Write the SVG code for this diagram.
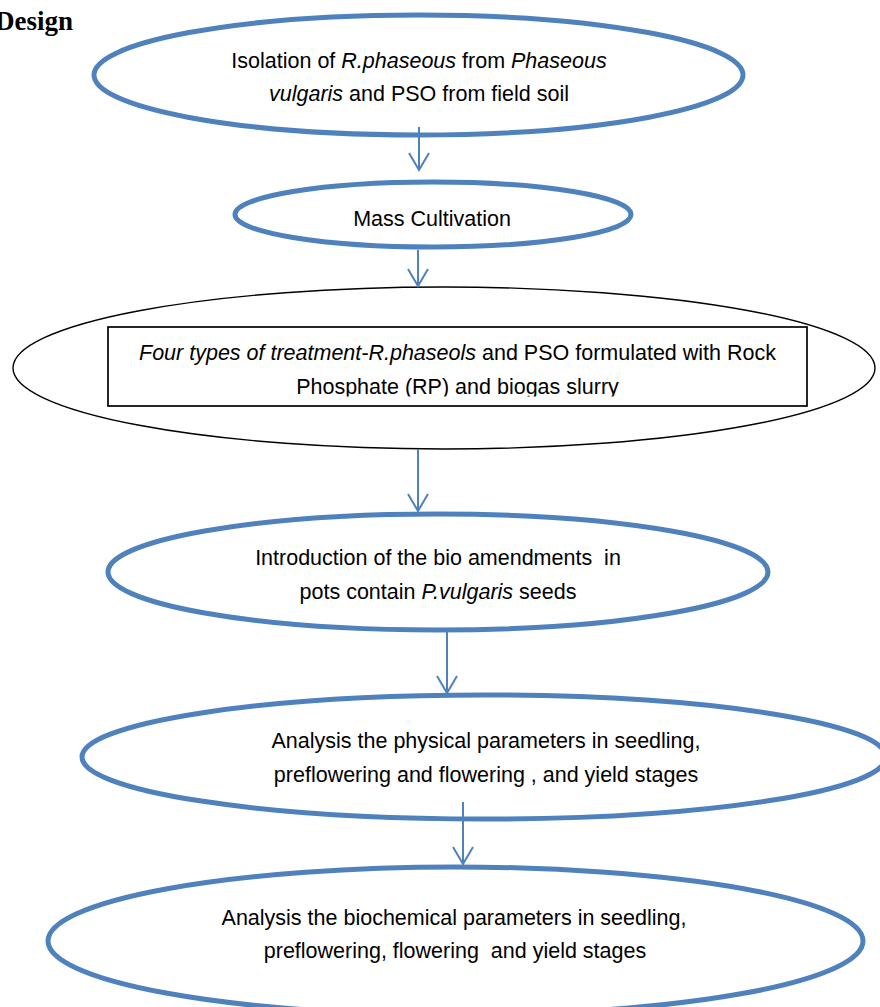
<svg xmlns="http://www.w3.org/2000/svg" width="880" height="1007" viewBox="0 0 880 1007">
  <defs>
    <style>
      .blue { fill: none; stroke: #4F81BD; stroke-width: 5; }
      .thin { fill: none; stroke: #000; stroke-width: 1.4; }
      .box { fill: #fff; stroke: #000; stroke-width: 1.7; }
      .lbl { font-family: "Liberation Sans", Arial, sans-serif; font-size: 21.5px; fill: #000; text-anchor: middle; }
      .it { font-style: italic; }
      .title { font-family: "Liberation Serif", "Times New Roman", serif; font-weight: bold; font-size: 27px; fill: #000; }
      .conn line, .conn polyline { fill: none; stroke: #4F81BD; stroke-width: 2; }
    </style>
    <clipPath id="boxclip">
      <rect x="108" y="320" width="699" height="76.5"/>
    </clipPath>
  </defs>
  <rect x="0" y="0" width="880" height="1007" fill="#fff"/>

  <text class="title" x="-5" y="30">Design</text>

  <g id="node-isolation">
    <ellipse class="blue" cx="418.5" cy="75" rx="324.5" ry="60"/>
    <text class="lbl" x="419" y="68">Isolation of <tspan class="it">R.phaseous</tspan> from <tspan class="it">Phaseous</tspan></text>
    <text class="lbl" x="419" y="101"><tspan class="it">vulgaris</tspan> and PSO from field soil</text>
  </g>

  <g id="node-mass">
    <ellipse class="blue" cx="433" cy="214.5" rx="198" ry="32.5"/>
    <text class="lbl" x="432" y="226">Mass Cultivation</text>
  </g>

  <g id="node-treatment">
    <ellipse class="thin" cx="444" cy="368" rx="431" ry="81"/>
    <rect class="box" x="108" y="327" width="699" height="79"/>
    <g clip-path="url(#boxclip)">
      <text class="lbl" x="457.5" y="360"><tspan class="it">Four types of treatment-R.phaseols</tspan> and PSO formulated with Rock</text>
      <text class="lbl" x="457.5" y="394">Phosphate (RP) and biogas slurry</text>
    </g>
  </g>

  <g id="node-introduction">
    <ellipse class="blue" cx="438" cy="572" rx="330" ry="58"/>
    <text class="lbl" x="438" y="565" xml:space="preserve">Introduction of the bio amendments  in</text>
    <text class="lbl" x="438" y="598.5">pots contain <tspan class="it">P.vulgaris</tspan> seeds</text>
  </g>

  <g id="node-physical">
    <ellipse class="blue" cx="484" cy="757" rx="402" ry="62"/>
    <text class="lbl" x="486" y="748">Analysis the physical parameters in seedling,</text>
    <text class="lbl" x="486" y="782">preflowering and flowering , and yield stages</text>
  </g>

  <g id="node-biochemical">
    <ellipse class="blue" cx="455.5" cy="941" rx="407.5" ry="74"/>
    <text class="lbl" x="454" y="925">Analysis the biochemical parameters in seedling,</text>
    <text class="lbl" x="455" y="958" xml:space="preserve">preflowering, flowering  and yield stages</text>
  </g>

  <g id="connectors" class="conn">
    <line x1="419" y1="127" x2="419" y2="170"/>
    <polyline points="409,153 419,170 429,153"/>
    <line x1="418" y1="250" x2="418" y2="286"/>
    <polyline points="408,269 418,286 428,269"/>
    <line x1="418" y1="449" x2="418" y2="511"/>
    <polyline points="408,494 418,511 428,494"/>
    <line x1="447" y1="632" x2="447" y2="693"/>
    <polyline points="437,676 447,693 457,676"/>
    <line x1="463" y1="802" x2="463" y2="864"/>
    <polyline points="453,847 463,864 473,847"/>
  </g>
</svg>
